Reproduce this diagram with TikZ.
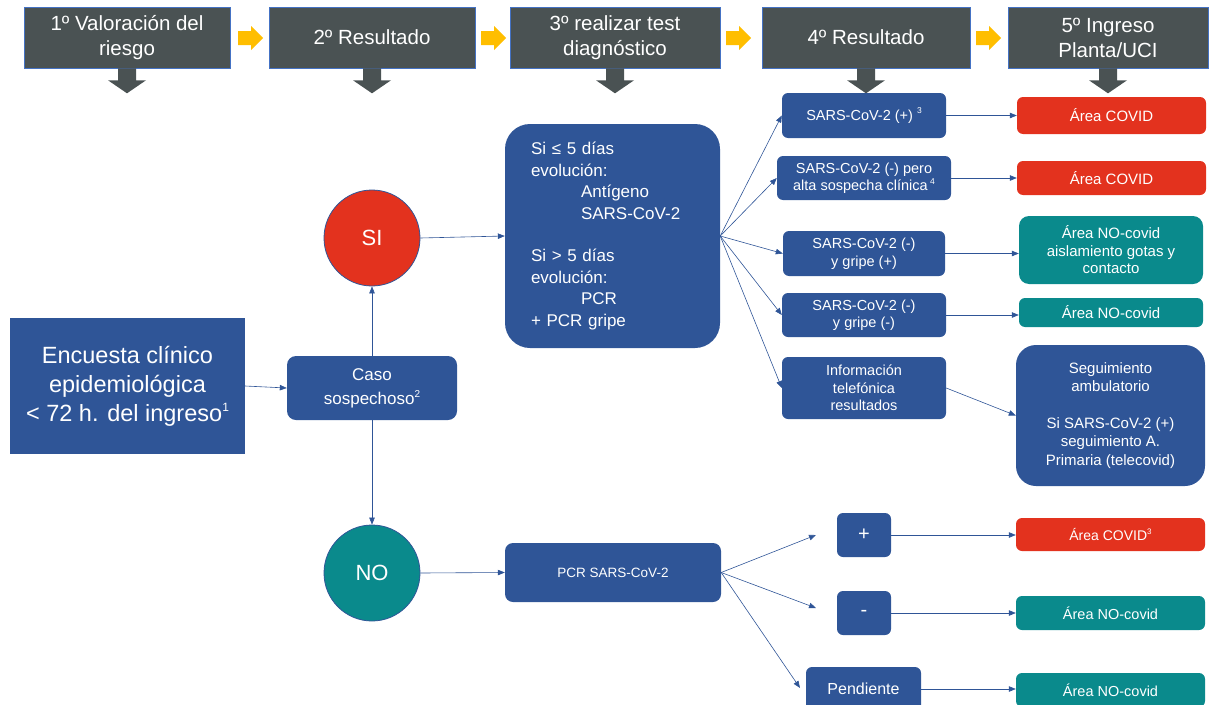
\documentclass[tikz,border=0pt]{standalone}
\usepackage{fontspec}
\setmainfont{Liberation Sans}
\usetikzlibrary{arrows.meta}
\definecolor{hdrgray}{HTML}{4A5253}
\definecolor{hdrline}{HTML}{4472C4}
\definecolor{boxblue}{HTML}{2F5597}
\definecolor{covidred}{HTML}{E3321E}
\definecolor{tealc}{HTML}{0A8A8C}
\definecolor{goldc}{HTML}{FFBE00}
\newcommand\dnarrow[1]{\fill[hdrgray] ([xshift=-9pt]#1.south) -- ++(18,0) -- ++(0,12) -- ++(10,0) -- ++(-19,13) -- ++(-19,-13) -- ++(10,0) -- cycle;}
\newcommand\goldarrow[1]{\fill[goldc] (#1,31) -- ++(13,0) -- ++(0,-5) -- ++(12,12) -- ++(-12,12) -- ++(0,-5) -- ++(-13,0) -- cycle;}
\newcommand\supnum[2]{\raisebox{0.42em}{\fontsize{#1}{#1}\selectfont #2}}
\begin{document}
\begin{tikzpicture}[x=1pt,y=-1pt,
  hdr/.style={draw=hdrline, line width=0.6pt, fill=hdrgray, text=white, align=center, inner sep=0pt, font=\fontsize{20.5}{25}\selectfont},
  bx/.style={fill=boxblue, text=white, align=center, inner sep=0pt, rounded corners=6pt, font=\fontsize{14.5}{17.5}\selectfont},
  redbx/.style={bx, fill=covidred},
  tealbx/.style={bx, fill=tealc},
  circ/.style={circle, draw=boxblue, line width=0.8pt, minimum size=96pt, inner sep=0pt, text=white, font=\fontsize{22}{26}\selectfont},
  conn/.style={draw=boxblue, line width=0.6pt, -{Triangle[length=7pt,width=5.5pt]}},
]
\useasboundingbox (0,0) rectangle (1212,704);
\clip (0,0) rectangle (1212,704);

% headers
\node[hdr, minimum width=206pt, minimum height=61pt] (h1) at (127,37.5) {1º Valoración del\\riesgo};
\node[hdr, minimum width=206pt, minimum height=61pt] (h2) at (372,37.5) {2º Resultado};
\node[hdr, minimum width=210pt, minimum height=61pt] (h3) at (615,37.5) {3º realizar test\\diagnóstico};
\node[hdr, minimum width=208pt, minimum height=61pt] (h4) at (866,37.5) {4º Resultado};
\node[hdr, minimum width=200pt, minimum height=61pt] (h5) at (1108,37.5) {5º Ingreso\\Planta/UCI};
\goldarrow{238}
\goldarrow{481}
\goldarrow{726}
\goldarrow{976}
\dnarrow{h1}
\dnarrow{h2}
\dnarrow{h3}
\dnarrow{h4}
\dnarrow{h5}

% left part
\node[bx, rounded corners=0pt, minimum width=235pt, minimum height=136pt, font=\fontsize{23.5}{29}\selectfont] (enc) at (127.5,386) {Encuesta clínico\\epidemiológica\\< 72 h. del ingreso\supnum{12}{1}};
\node[bx, rounded corners=9pt, minimum width=170pt, minimum height=64pt, font=\fontsize{17}{24}\selectfont] (caso) at (372,388) {Caso\\sospechoso\supnum{10}{2}};
\node[circ, fill=covidred] (si) at (372,238) {SI};
\node[circ, fill=tealc] (no) at (372,573) {NO};

% big box
\node[bx, rounded corners=25pt, minimum width=215pt, minimum height=224pt, align=left, text width=163pt, inner xsep=26pt, font=\fontsize{17}{21.4}\selectfont] (big) at (612.5,236) {Si ≤ 5 días\\evolución:\\\hspace*{50pt}Antígeno\\\hspace*{50pt}SARS-CoV-2\\[21.4pt]Si > 5 días\\evolución:\\\hspace*{50pt}PCR\\+ PCR gripe};

% results column
\node[bx, minimum width=164pt, minimum height=45pt] (r1) at (864,115.5) {SARS-CoV-2 (+) \supnum{8.5}{3}};
\node[bx, minimum width=174pt, minimum height=44pt] (r2) at (864,178) {SARS-CoV-2 (-) pero\\alta sospecha clínica\,\supnum{8.5}{4}};
\node[bx, minimum width=162pt, minimum height=45pt] (r3) at (864,253.5) {SARS-CoV-2 (-)\\y gripe (+)};
\node[bx, minimum width=164pt, minimum height=44pt] (r4) at (864,315) {SARS-CoV-2 (-)\\y gripe (-)};
\node[bx, minimum width=164pt, minimum height=62pt] (r5) at (864,388) {Información\\telefónica\\resultados};

% area column
\node[redbx, minimum width=189pt, minimum height=37pt, font=\fontsize{15}{18}\selectfont] (a1) at (1111.5,115.5) {Área COVID};
\node[redbx, minimum width=189pt, minimum height=34pt, font=\fontsize{15}{18}\selectfont] (a2) at (1111.5,178) {Área COVID};
\node[tealbx, rounded corners=10pt, minimum width=184pt, minimum height=68pt, font=\fontsize{15}{17.5}\selectfont] (a3) at (1111,250) {Área NO-covid\\aislamiento gotas y\\contacto};
\node[tealbx, minimum width=184pt, minimum height=29pt, font=\fontsize{15}{18}\selectfont] (a4) at (1111,312.5) {Área NO-covid};
\node[bx, rounded corners=20pt, minimum width=189pt, minimum height=141pt, font=\fontsize{15}{18.3}\selectfont] (a5) at (1110.5,415.5) {Seguimiento\\ambulatorio\\[18.3pt]Si SARS-CoV-2 (+)\\seguimiento A.\\Primaria (telecovid)};

% bottom part
\node[bx, rounded corners=8pt, minimum width=216pt, minimum height=59pt, font=\fontsize{13.5}{16}\selectfont] (pcr) at (613,572.5) {PCR SARS-CoV-2};
\node[bx, minimum width=54pt, minimum height=44pt, font=\fontsize{20}{24}\selectfont] (plus) at (864,535) {+};
\node[bx, minimum width=54pt, minimum height=44pt, font=\fontsize{20}{24}\selectfont] (minus) at (864,613) {-};
\node[bx, minimum width=115pt, minimum height=44pt, font=\fontsize{16}{19}\selectfont] (pend) at (863.5,689) {Pendiente};
\node[redbx, minimum width=189pt, minimum height=33pt, font=\fontsize{14}{17}\selectfont] (c1) at (1110.5,534.5) {Área COVID\supnum{8}{3}};
\node[tealbx, minimum width=189pt, minimum height=34pt, font=\fontsize{14.5}{17}\selectfont] (c2) at (1110.5,613) {Área NO-covid};
\node[tealbx, minimum width=189pt, minimum height=34pt, font=\fontsize{14.5}{17}\selectfont] (c3) at (1110.5,690) {Área NO-covid};

\coordinate (tp) at (816,535);
\coordinate (tm) at (816,608);
\coordinate (tpe) at (800,688);

% connectors
\draw[conn] (enc.east) -- (caso.west);
\draw[conn] (caso.north) -- (si.south);
\draw[conn] (caso.south) -- (no.north);
\draw[conn] (si.east) -- (big.west);
\draw[conn] (no.east) -- (pcr.west);
\draw[conn] (big.east) -- (r1.west);
\draw[conn] (big.east) -- (r2.west);
\draw[conn] (big.east) -- (r3.west);
\draw[conn] (big.east) -- (r4.west);
\draw[conn] (big.east) -- (r5.west);
\draw[conn] (r1.east) -- (r1.east -| a1.west);
\draw[conn] (r2.east) -- (r2.east -| a2.west);
\draw[conn] (r3.east) -- (r3.east -| a3.west);
\draw[conn] (r4.east) -- (r4.east -| a4.west);
\draw[conn] (r5.east) -- (a5.west);
\draw[conn] (pcr.east) -- (tp);
\draw[conn] (pcr.east) -- (tm);
\draw[conn] (pcr.east) -- (tpe);
\draw[conn] (plus.east) -- (plus.east -| c1.west);
\draw[conn] (minus.east) -- (minus.east -| c2.west);
\draw[conn] (pend.east) -- (pend.east -| c3.west);
\end{tikzpicture}
\end{document}
